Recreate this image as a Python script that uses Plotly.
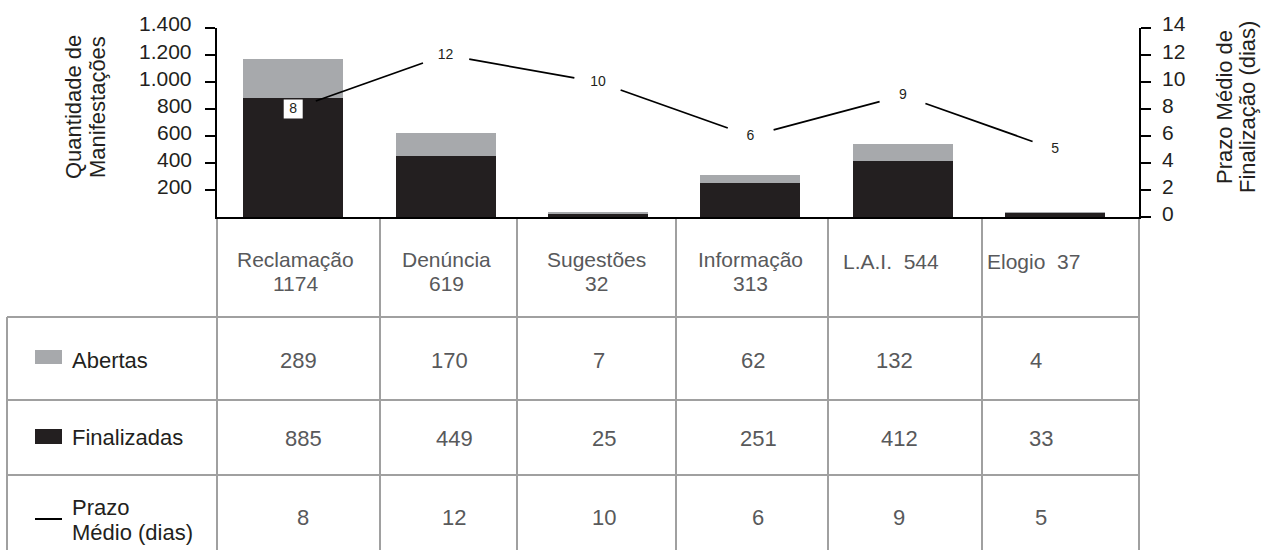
import math
import plotly.graph_objects as go

# ---------------- data ----------------
categories = ["Reclamação", "Denúncia", "Sugestões", "Informação", "L.A.I.", "Elogio"]
abertas = [289, 170, 7, 62, 132, 4]
finalizadas = [885, 449, 25, 251, 412, 33]
prazo_medio = [8, 12, 10, 6, 9, 5]
left_ticks = [200, 400, 600, 800, 1000, 1200, 1400]
right_ticks = [0, 2, 4, 6, 8, 10, 12, 14]

# ---------------- layout constants (pixels) ----------------
W, H = 1261, 550
PLOT_L, PLOT_R, PLOT_T, PLOT_B = 217, 1139, 28, 217
CAT_W = 152.4
FONT = "Liberation Sans, Arial, sans-serif"
DARK = "#231f20"
GRAYTXT = "#58595b"
GRID = "#a0a0a0"
C_ABERTAS = "#a7a9ac"
C_FINAL = "#231f20"

def PX(x):
    return x / W

def PY(y):
    return 1 - y / H

xr = [-0.5, -0.5 + (PLOT_R - PLOT_L) / CAT_W]
y2r = [0, 14]
px_per_cat = (PLOT_R - PLOT_L) / (xr[1] - xr[0])
px_per_day = (PLOT_B - PLOT_T) / (y2r[1] - y2r[0])

xs = list(range(len(categories)))

fig = go.Figure()
fig.add_trace(go.Bar(x=xs, y=finalizadas, marker_color=C_FINAL, width=100 / CAT_W,
                     marker_line_width=0, name="Finalizadas", showlegend=False))
fig.add_trace(go.Bar(x=xs, y=abertas, marker_color=C_ABERTAS, width=100 / CAT_W,
                     marker_line_width=0, name="Abertas", showlegend=False))

# line with gaps around the labels
GAP = 24
lx, ly = [], []
for i in range(len(xs) - 1):
    dxp = (xs[i + 1] - xs[i]) * px_per_cat
    dyp = (prazo_medio[i + 1] - prazo_medio[i]) * px_per_day
    L = math.hypot(dxp, dyp)
    t = GAP / L
    for f in (t, 1 - t):
        lx.append(xs[i] + f * (xs[i + 1] - xs[i]))
        ly.append(prazo_medio[i] + f * (prazo_medio[i + 1] - prazo_medio[i]))
    lx.append(None)
    ly.append(None)
fig.add_trace(go.Scatter(x=lx, y=ly, yaxis="y2", mode="lines",
                         line=dict(color="black", width=1.8), showlegend=False,
                         hoverinfo="skip"))
fig.add_trace(go.Scatter(x=xs, y=prazo_medio, yaxis="y2", mode="markers+text",
                         text=[str(v) for v in prazo_medio], textposition="middle center",
                         textfont=dict(family=FONT, size=14, color=DARK),
                         marker=dict(symbol="square", size=19, color="white",
                                     line=dict(width=0)),
                         showlegend=False, name="Prazo Médio (dias)"))

shapes = []
# table grid
col_bounds = [217, 380, 517, 676, 828, 982, 1139]
for cx in col_bounds:
    shapes.append(dict(type="line", xref="paper", yref="paper", x0=PX(cx), x1=PX(cx),
                       y0=PY(PLOT_B), y1=PY(H + 5), line=dict(color=GRID, width=2), layer="below"))
shapes.append(dict(type="line", xref="paper", yref="paper", x0=PX(7), x1=PX(7),
                   y0=PY(317), y1=PY(H + 5), line=dict(color=GRID, width=2)))
for ry in [317, 400, 475]:
    shapes.append(dict(type="line", xref="paper", yref="paper", x0=PX(7), x1=PX(1139),
                       y0=PY(ry), y1=PY(ry), line=dict(color=GRID, width=2)))
# legend swatches
shapes.append(dict(type="rect", xref="paper", yref="paper", x0=PX(35), x1=PX(62),
                   y0=PY(364), y1=PY(350), line=dict(width=0), fillcolor=C_ABERTAS))
shapes.append(dict(type="rect", xref="paper", yref="paper", x0=PX(35), x1=PX(62),
                   y0=PY(444), y1=PY(429), line=dict(width=0), fillcolor=C_FINAL))
shapes.append(dict(type="line", xref="paper", yref="paper", x0=PX(35), x1=PX(62),
                   y0=PY(519), y1=PY(519), line=dict(color="black", width=2)))

ann = []
def txt(x, y, s, size=22, color=GRAYTXT, xanchor="center", angle=0):
    ann.append(dict(x=PX(x), y=PY(y), xref="paper", yref="paper", text=s, showarrow=False,
                    xanchor=xanchor, yanchor="middle", textangle=angle, borderpad=0,
                    font=dict(family=FONT, size=size, color=color)))

# axis tick labels (placed on the axes' own scales)
for v in left_ticks:
    ann.append(dict(x=PX(193), y=v, xref="paper", yref="y", text=f"{v:,}".replace(",", "."),
                    showarrow=False, xanchor="right", yanchor="middle", yshift=4, borderpad=0,
                    font=dict(family=FONT, size=21, color=DARK)))
for v in right_ticks:
    ann.append(dict(x=PX(1161), y=v, xref="paper", yref="y2", text=str(v),
                    showarrow=False, xanchor="left", yanchor="middle", yshift=4, borderpad=0,
                    font=dict(family=FONT, size=21, color=DARK)))

# axis titles
txt(73, 107, "Quantidade de", size=22, color=DARK, angle=-90)
txt(97, 107, "Manifestações", size=22, color=DARK, angle=-90)
txt(1224, 107, "Prazo Médio de", size=22, color=DARK, angle=-90)
txt(1247, 107, "Finalização (dias)", size=22, color=DARK, angle=-90)

# header row
head_x = [295, 446, 596, 750, 891, 1033]
inline = {4, 5}
for i, c in enumerate(categories):
    total = abertas[i] + finalizadas[i]
    if i in inline:
        txt(head_x[i], 261, f"{c}\u00a0 {total}", size=21)
    else:
        txt(head_x[i], 260, c, size=21)
        txt(head_x[i], 283, str(total), size=21)

# legend labels
txt(71, 360, "Abertas", color=DARK, xanchor="left")
txt(71, 437, "Finalizadas", color=DARK, xanchor="left")
txt(71, 507, "Prazo", color=DARK, xanchor="left")
txt(71, 532, "Médio (dias)", color=DARK, xanchor="left")

# table values
rows = [(abertas, 360, 3), (finalizadas, 438, 8), (prazo_medio, 517, 8)]
for vals, ry, off in rows:
    for i, v in enumerate(vals):
        txt(head_x[i] + off, ry, str(v))

fig.update_layout(
    width=W, height=H,
    margin=dict(l=0, r=0, t=0, b=0, autoexpand=False),
    paper_bgcolor="white", plot_bgcolor="white",
    barmode="stack", bargap=0,
    showlegend=False,
    xaxis=dict(domain=[PX(PLOT_L), PX(PLOT_R)], range=xr, showline=True, linecolor="black",
               linewidth=2, showticklabels=False, ticks="", showgrid=False, zeroline=False,
               automargin=False),
    yaxis=dict(domain=[PY(PLOT_B), PY(PLOT_T)], range=[0, 1400], tickvals=left_ticks,
               showticklabels=False,
               ticks="outside", ticklen=10, tickwidth=1.5, tickcolor="black",
               showline=True, linecolor="black", linewidth=2, showgrid=False, zeroline=False,
               automargin=False),
    yaxis2=dict(domain=[PY(PLOT_B), PY(PLOT_T)], range=y2r, overlaying="y", side="right",
                anchor="x", tickvals=right_ticks, showticklabels=False,
                ticks="outside", ticklen=10, tickwidth=1.5,
                tickcolor="black", showline=True, linecolor="black", linewidth=2,
                showgrid=False, zeroline=False,
                automargin=False),
    shapes=shapes,
    annotations=ann,
)

fig.write_html("out.html", config={"displayModeBar": False},
               post_script="document.body.style.margin='0';document.body.style.overflow='hidden';")
